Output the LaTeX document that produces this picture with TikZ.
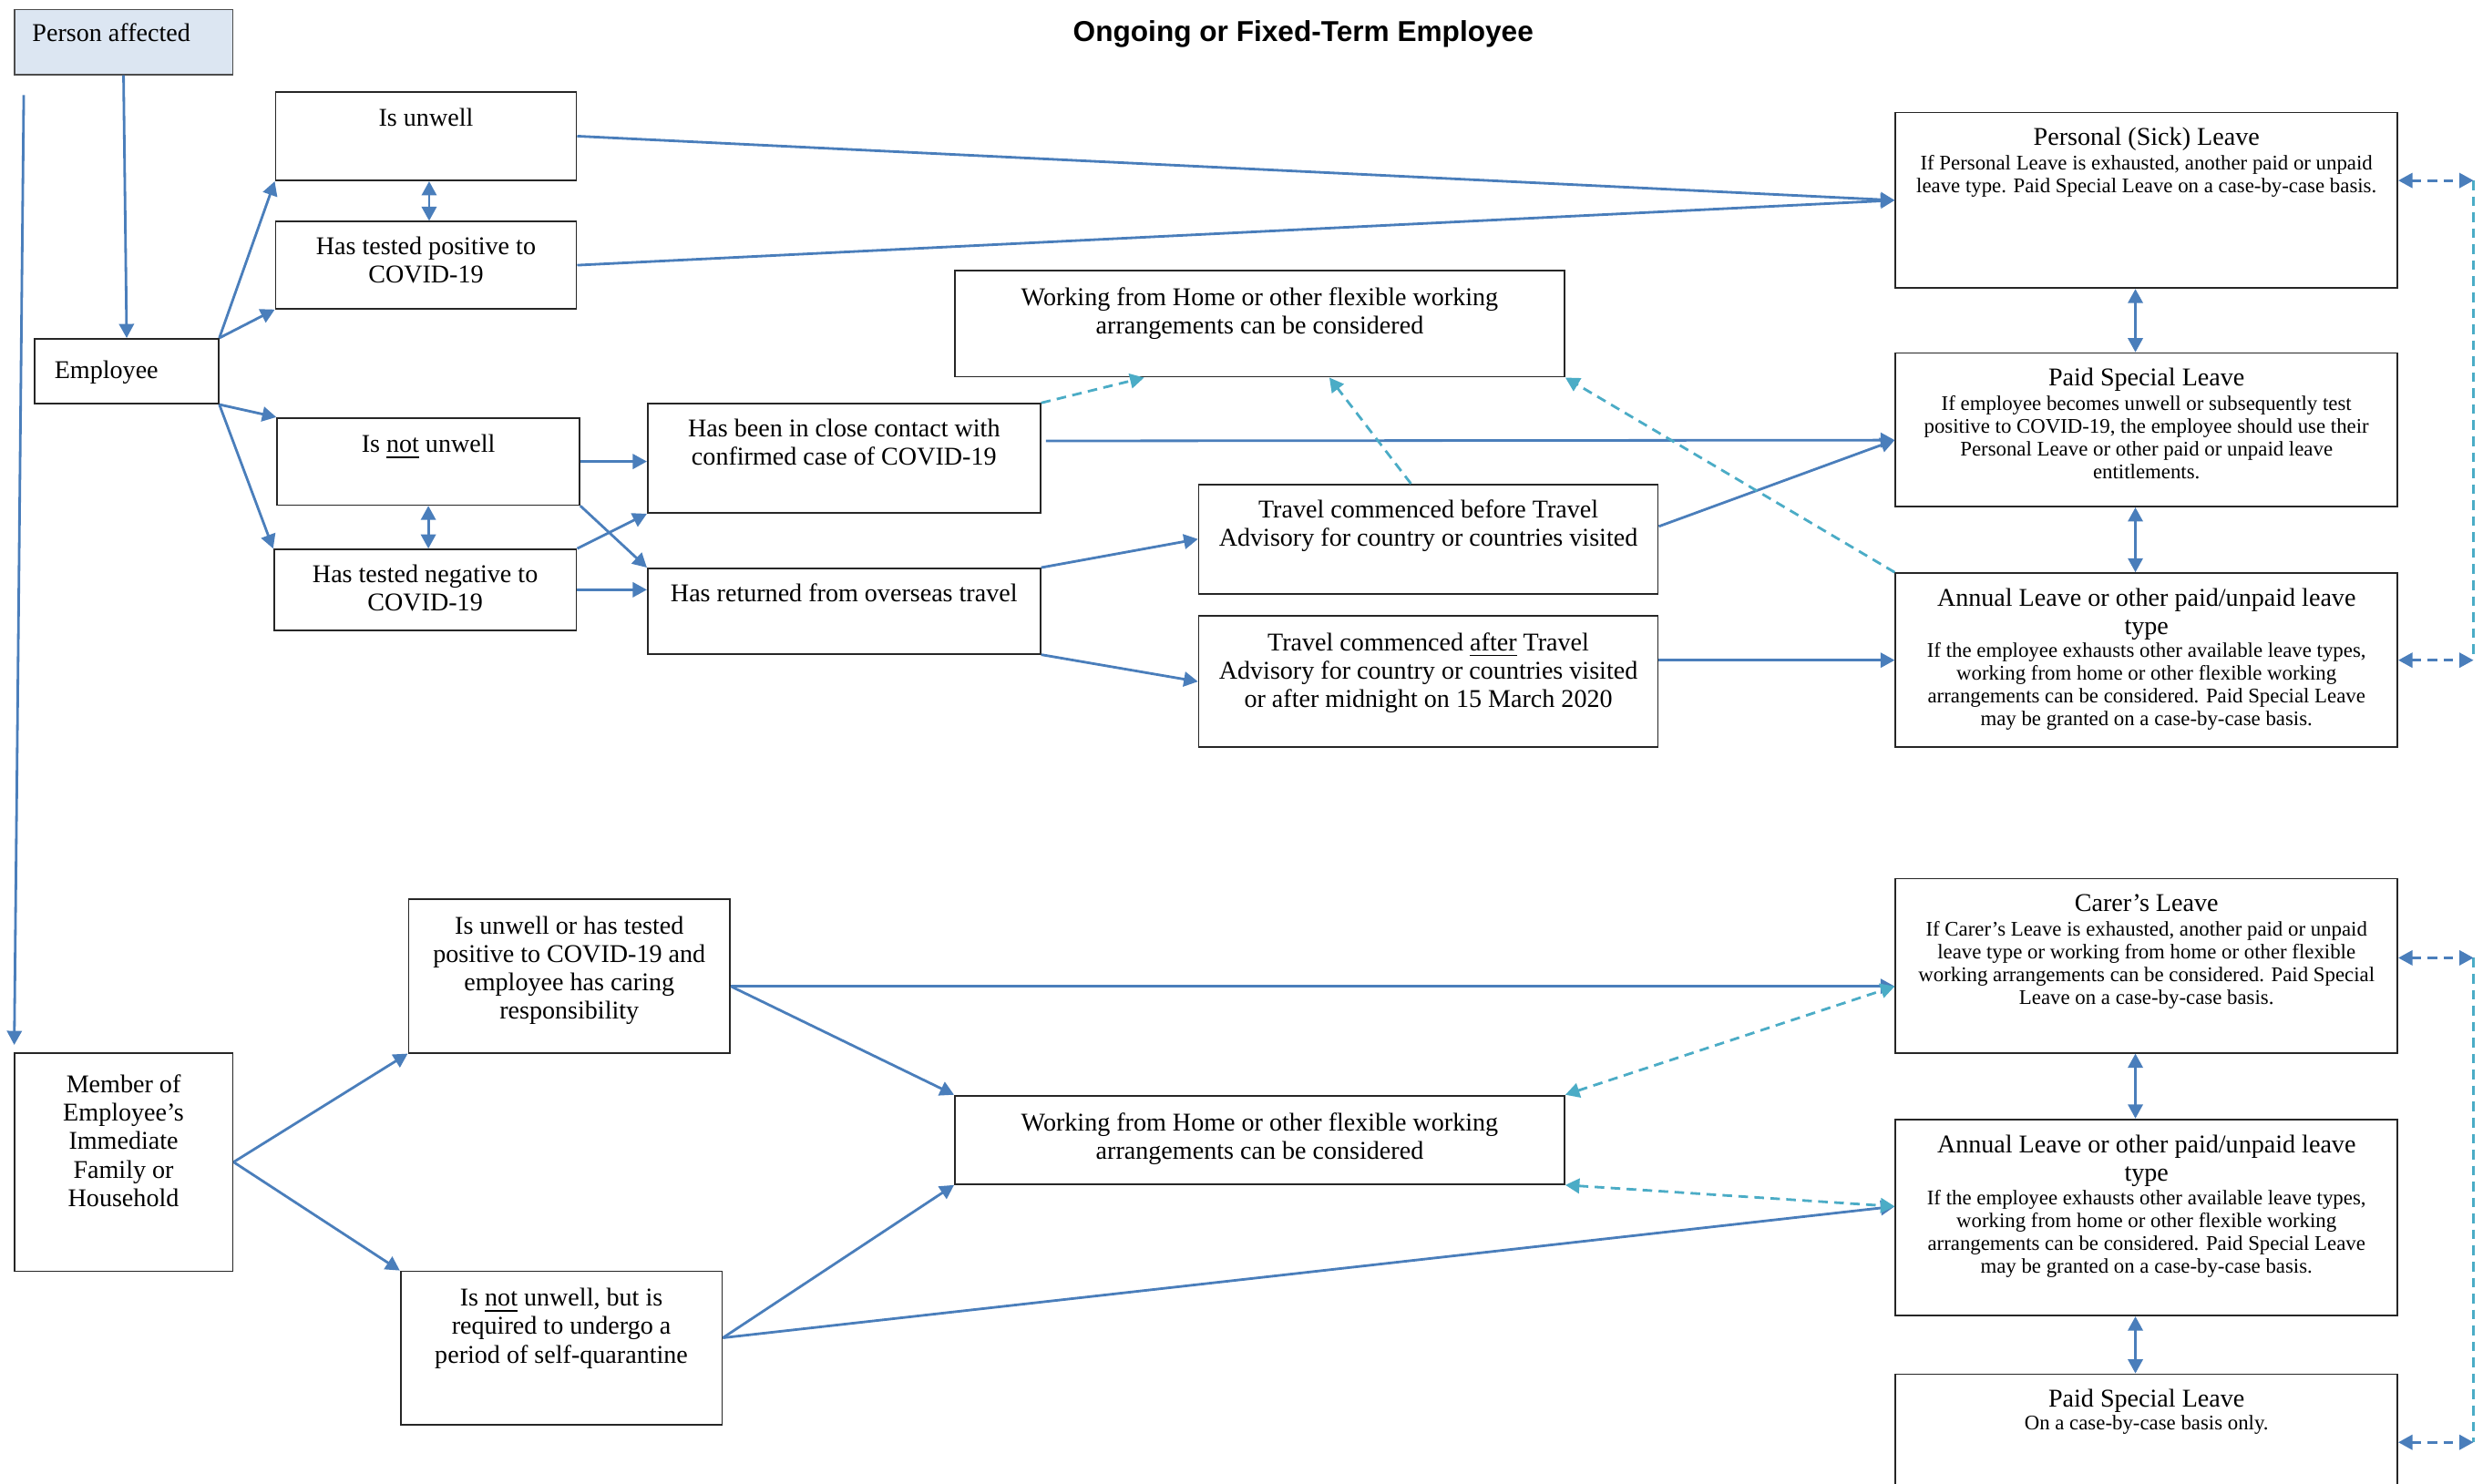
\documentclass[tikz,border=0pt]{standalone}
\usepackage{fontspec}
\setmainfont{Liberation Serif}
\newfontfamily\titlefont{Liberation Sans}
\usetikzlibrary{arrows.meta,fit,calc}
\definecolor{conn}{RGB}{74,126,187}
\definecolor{dcyan}{RGB}{75,172,198}
\definecolor{pafill}{RGB}{220,230,242}
\begin{document}
\begin{tikzpicture}[x=0.0174cm,y=-0.0174cm,
  box/.style={draw=black!85, line width=0.5pt, inner sep=0pt, rectangle},
  txt/.style={anchor=north, align=center, inner sep=0pt, font=\fontsize{8}{8.9}\selectfont},
  ltxt/.style={anchor=north west, align=left, inner sep=0pt, font=\fontsize{8}{8.9}\selectfont},
  small/.style={anchor=north, align=center, inner sep=0pt, font=\fontsize{6.5}{7.15}\selectfont},
  arr/.style={draw=conn, line width=0.8pt, -{Triangle[length=4.4pt,width=4.6pt]}},
  darr/.style={draw=conn, line width=0.8pt, {Triangle[length=4.4pt,width=4.6pt]}-{Triangle[length=4.4pt,width=4.6pt]}},
  cdash/.style={draw=dcyan, line width=0.8pt, dash pattern=on 3pt off 2pt, -{Triangle[length=4.4pt,width=4.6pt]}},
  cddash/.style={draw=dcyan, line width=0.8pt, dash pattern=on 3pt off 2pt, {Triangle[length=4.4pt,width=4.6pt]}-{Triangle[length=4.4pt,width=4.6pt]}},
  bddash/.style={draw=conn, line width=0.8pt, dash pattern=on 3pt off 2pt, {Triangle[length=4.4pt,width=4.6pt]}-{Triangle[length=4.4pt,width=4.6pt]}},
  vdash/.style={draw=dcyan, line width=0.8pt, dash pattern=on 3pt off 2pt}
]
\fill[white] (0,0) rectangle (1568,937);
\useasboundingbox (0,0) rectangle (1568,937);

% title
\node[anchor=north, inner sep=0pt, font=\titlefont\bfseries\fontsize{9}{10}\selectfont] (title) at (823,12.4) {Ongoing or Fixed-Term Employee};

% boxes
\node[box, fill=pafill, draw=black!70, fit={(9,6) (147,47)}] (pa) {};
\node[box, fit={(174,58) (364,114)}] (unwell) {};
\node[box, fit={(174,140) (364,195)}] (pos) {};
\node[box, fit={(22,214) (138,255)}] (emp) {};
\node[box, fit={(175,264) (366,319)}] (notunwell) {};
\node[box, fit={(173,347) (364,398)}] (neg) {};
\node[box, fit={(409,255) (657,324)}] (contact) {};
\node[box, fit={(409,359) (657,413)}] (returned) {};
\node[box, fit={(603,171) (988,238)}] (wfh) {};
\node[box, fit={(757,306) (1047,375)}] (before) {};
\node[box, fit={(757,389) (1047,472)}] (after) {};
\node[box, fit={(1197,71) (1514,182)}] (pleave) {};
\node[box, fit={(1197,223) (1514,320)}] (psl) {};
\node[box, fit={(1197,362) (1514,472)}] (annual) {};
\node[box, fit={(258,568) (461,665)}] (careunwell) {};
\node[box, fit={(9,665) (147,803)}] (member) {};
\node[box, fit={(253,803) (456,900)}] (nu2) {};
\node[box, fit={(603,692) (988,748)}] (wfh2) {};
\node[box, fit={(1197,555) (1514,665)}] (carer) {};
\node[box, fit={(1197,707) (1514,831)}] (annual2) {};
\node[box, fit={(1197,868) (1514,960)}] (psl2) {};

% texts
\node[ltxt] (tpa) at (20,14.3) {Person affected};
\node[txt] (tunwell) at (269,68.3) {Is unwell};
\node[txt] (tpos) at (269,149.3) {Has tested positive to\\COVID-19};
\node[ltxt] (temp) at (34,227.3) {Employee};
\node[txt] (tnotunwell) at (270.5,274.3) {Is \underline{not} unwell};
\node[txt] (tneg) at (268.5,356.3) {Has tested negative to\\COVID-19};
\node[txt] (tcontact) at (533,264.3) {Has been in close contact with\\confirmed case of COVID-19};
\node[txt] (treturned) at (533,368.3) {Has returned from overseas travel};
\node[txt] (twfh) at (795.5,181.3) {Working from Home or other flexible working\\arrangements can be considered};
\node[txt] (tbefore) at (902,315.3) {Travel commenced before Travel\\Advisory for country or countries visited};
\node[txt] (tafter) at (902,399.3) {Travel commenced \underline{after} Travel\\Advisory for country or countries visited\\or after midnight on 15 March 2020};
\node[txt] (tpl1) at (1355.5,80.3) {Personal (Sick) Leave};
\node[small] (tpl2) at (1355.5,97.4) {If Personal Leave is exhausted, another paid or unpaid\\leave type. Paid Special Leave on a case-by-case basis.};
\node[txt] (tpsl1) at (1355.5,232.3) {Paid Special Leave};
\node[small] (tpsl2) at (1355.5,249.4) {If employee becomes unwell or subsequently test\\positive to COVID-19, the employee should use their\\Personal Leave or other paid or unpaid leave\\entitlements.};
\node[txt] (tan1) at (1355.5,371.3) {Annual Leave or other paid/unpaid leave\\type};
\node[small] (tan2) at (1355.5,405.4) {If the employee exhausts other available leave types,\\working from home or other flexible working\\arrangements can be considered. Paid Special Leave\\may be granted on a case-by-case basis.};
\node[txt] (tcu) at (359.5,578.3) {Is unwell or has tested\\positive to COVID-19 and\\employee has caring\\responsibility};
\node[txt] (tmem) at (78,678.3) {Member of\\Employee’s\\Immediate\\Family or\\Household};
\node[txt] (tnu2) at (354.5,813.3) {Is \underline{not} unwell, but is\\required to undergo a\\period of self-quarantine};
\node[txt] (twfh2) at (795.5,702.3) {Working from Home or other flexible working\\arrangements can be considered};
\node[txt] (tca1) at (1355.5,564.3) {Carer’s Leave};
\node[small] (tca2) at (1355.5,581.4) {If Carer’s Leave is exhausted, another paid or unpaid\\leave type or working from home or other flexible\\working arrangements can be considered. Paid Special\\Leave on a case-by-case basis.};
\node[txt] (tan21) at (1355.5,716.3) {Annual Leave or other paid/unpaid leave\\type};
\node[small] (tan22) at (1355.5,751.4) {If the employee exhausts other available leave types,\\working from home or other flexible working\\arrangements can be considered. Paid Special Leave\\may be granted on a case-by-case basis.};
\node[txt] (tpsl21) at (1355.5,877.3) {Paid Special Leave};
\node[small] (tpsl22) at (1355.5,893.4) {On a case-by-case basis only.};

% free coordinates
\coordinate (lstart) at (15,60);
\coordinate (lend) at (9,660);
\coordinate (r1) at (1562,114);
\coordinate (r2) at (1562,417);
\coordinate (r3) at (1562,605);
\coordinate (r4) at (1562,911);

% top section connectors
\draw[arr] (pa.south) -- (emp.north);
\draw[arr] (lstart) -- (lend);
\draw[arr] (emp.north east) -- (unwell.south west);
\draw[arr] (emp.north east) -- (pos.south west);
\draw[arr] (emp.south east) -- (notunwell.north west);
\draw[arr] (emp.south east) -- (neg.north west);
\draw[darr] ($(unwell.south)+(2,0)$) -- ($(pos.north)+(2,0)$);
\draw[darr] (notunwell.south) -- (notunwell.south |- neg.north);
\draw[arr] (unwell.east) -- (pleave.west);
\draw[arr] (pos.east) -- (pleave.west);
\draw[arr] (notunwell.east) -- (notunwell.east -| contact.west);
\draw[arr] (notunwell.south east) -- (returned.north west);
\draw[arr] (neg.north east) -- (contact.south west);
\draw[arr] (neg.east) -- (neg.east -| returned.west);
\draw[arr] ($(contact.east)+(3,-11)$) -- ($(psl.west)+(0,6.5)$);
\draw[cdash] (contact.north east) -- ($(wfh.south west)+(120,0)$);
\draw[arr] (returned.north east) -- (before.west);
\draw[arr] (returned.south east) -- (after.west);
\draw[cdash] ($(before.north)+(-11,0)$) -- ($(wfh.south west)+(237,0)$);
\draw[arr] ($(before.east)+(0,-8)$) -- ($(psl.west)+(0,6.5)$);
\draw[arr] (annual.west -| after.east) -- (annual.west);
\draw[cdash] (annual.north west) -- (wfh.south east);
\draw[darr] ($(pleave.south)+(-7,0)$) -- ($(psl.north)+(-7,0)$);
\draw[darr] ($(psl.south)+(-7,0)$) -- ($(annual.north)+(-7,0)$);

% bottom section connectors
\draw[arr] (member.east) -- (careunwell.south west);
\draw[arr] (member.east) -- (nu2.north west);
\draw[arr] ($(careunwell.east)+(0,6.5)$) -- ($(carer.west)+(0,13)$);
\draw[arr] ($(careunwell.east)+(0,6.5)$) -- (wfh2.north west);
\draw[arr] ($(nu2.east)+(0,-6.5)$) -- (wfh2.south west);
\draw[arr] ($(nu2.east)+(0,-6.5)$) -- ($(annual2.west)+(0,-7)$);
\draw[cddash] (wfh2.north east) -- ($(carer.west)+(0,13)$);
\draw[cddash] (wfh2.south east) -- ($(annual2.west)+(0,-7)$);
\draw[darr] ($(carer.south)+(-7,0)$) -- ($(annual2.north)+(-7,0)$);
\draw[darr] ($(annual2.south)+(-7,0)$) -- ($(psl2.north)+(-7,0)$);

% right-side dashed links
\draw[vdash] (r1) -- (r2);
\draw[vdash] (r3) -- (r4);
\draw[bddash] ($(pleave.east)+(0,-12.5)$) -- (r1);
\draw[bddash] (annual.east) -- (r2);
\draw[bddash] ($(carer.east)+(0,-5)$) -- (r3);
\draw[bddash] (psl2.east |- r4) -- (r4);
\end{tikzpicture}
\end{document}
